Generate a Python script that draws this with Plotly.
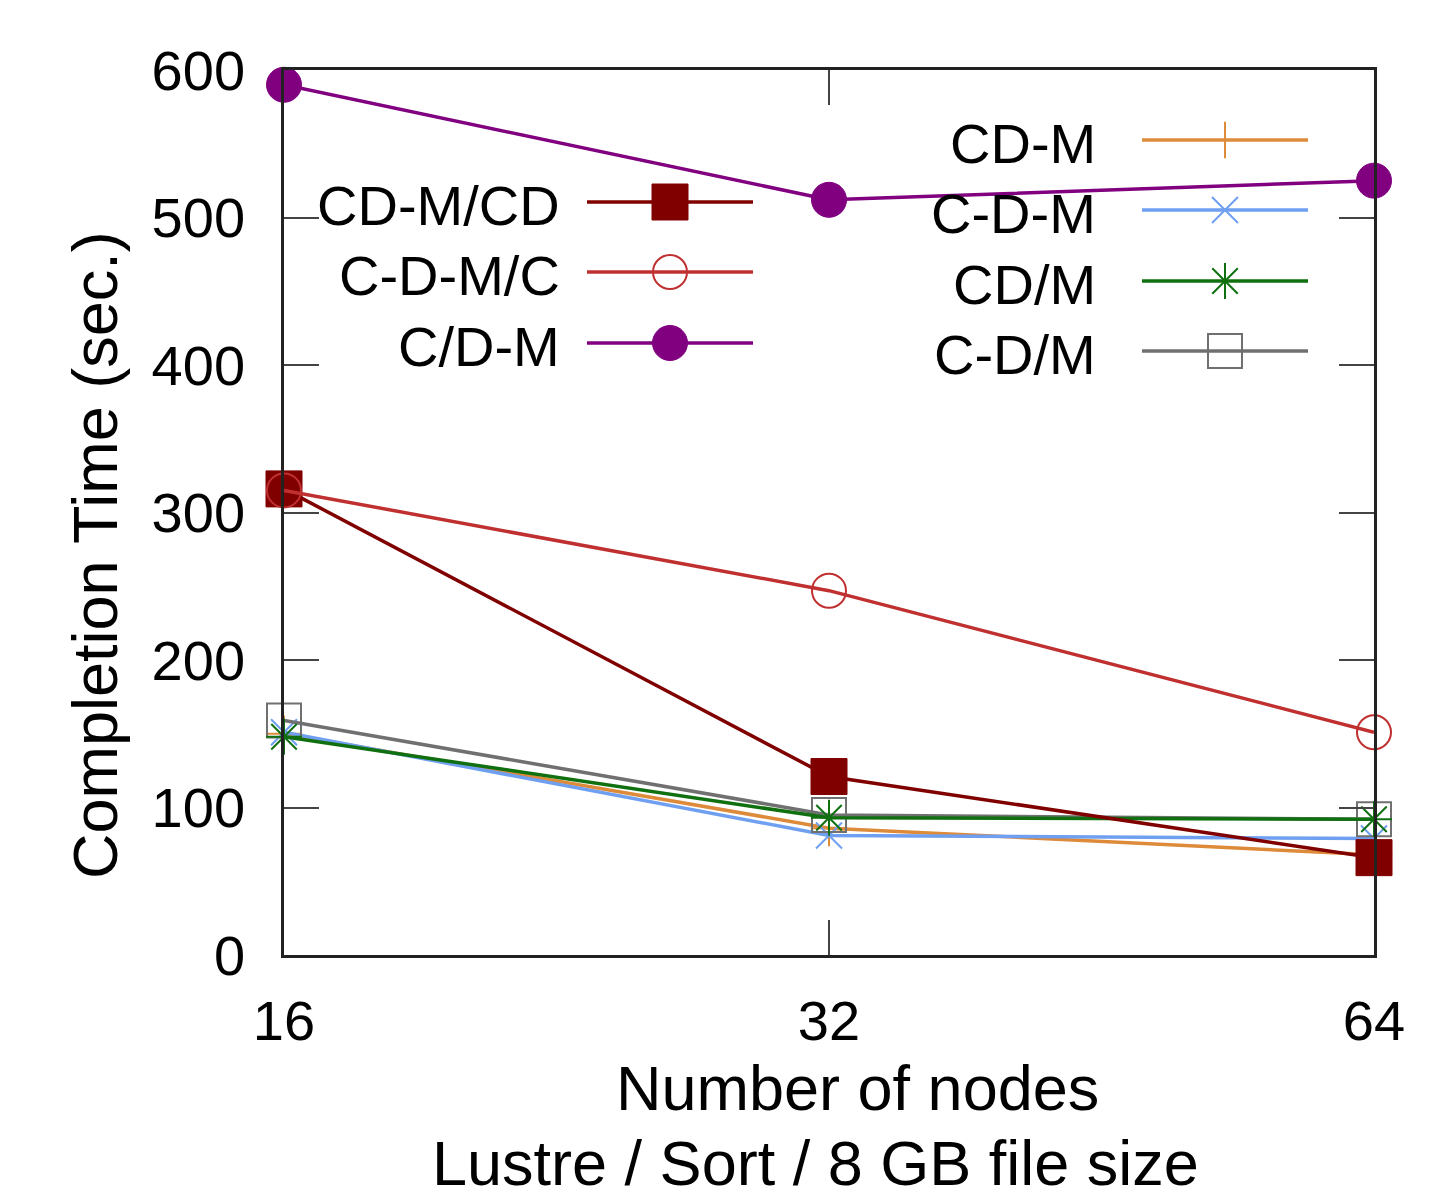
import math
import plotly.graph_objects as go

# ---------------- data ----------------
nodes = [16, 32, 64]
series_names = ["CD-M/CD", "C-D-M/C", "C/D-M", "CD-M", "C-D-M", "CD/M", "C-D/M"]
cdm_cd = [316, 121, 66]
cdm_c = [315, 247, 151]
c_dm = [590, 512, 525]
cd_m = [150, 86, 68]
c_d_m = [151, 81, 79]
cd_over_m = [148, 93, 92]
c_d_over_m = [159, 95, 92]
y_ticks = [0, 100, 200, 300, 400, 500, 600]
x_ticks = [16, 32, 64]

# ---------------- layout constants ----------------
W, H = 1442, 1192
OFF = 8  # page body margin offset
L, R, T, B = 284, 1374, 70, 955   # plot area in reference page pixels
FONT = "Liberation Sans, Arial, Helvetica, sans-serif"

def fx(px):
    return (px - L) / (R - L)

def fy(py):
    return (B - py) / (B - T)

styles = {
    "CD-M/CD": dict(color="#800000", symbol="square", size=36, lw=1),
    "C-D-M/C": dict(color="#c03030", symbol="circle-open", size=34, lw=2),
    "C/D-M": dict(color="#800080", symbol="circle", size=35, lw=1),
    "CD-M": dict(color="#dd8a3a", symbol="cross-thin", size=26, lw=2),
    "C-D-M": dict(color="#6f9ff0", symbol="x-thin", size=26, lw=2),
    "CD/M": dict(color="#107010", symbol="asterisk", size=30, lw=2),
    "C-D/M": dict(color="#707070", symbol="square-open", size=34, lw=2),
}
values = {
    "CD-M/CD": cdm_cd, "C-D-M/C": cdm_c, "C/D-M": c_dm,
    "CD-M": cd_m, "C-D-M": c_d_m, "CD/M": cd_over_m, "C-D/M": c_d_over_m,
}
draw_order = ["CD-M", "C-D-M", "C-D/M", "CD/M", "CD-M/CD", "C-D-M/C", "C/D-M"]

fig = go.Figure()

def marker_of(st):
    return dict(symbol=st["symbol"], size=st["size"], color=st["color"],
                line=dict(color=st["color"], width=st["lw"]))

for name in draw_order:
    st = styles[name]
    fig.add_trace(go.Scatter(
        x=nodes, y=values[name], mode="lines+markers", name=name,
        line=dict(color=st["color"], width=3.5),
        marker=marker_of(st), cliponaxis=False, showlegend=False,
    ))

# ---------------- manual gnuplot-style key ----------------
left_rows = [("CD-M/CD", 202), ("C-D-M/C", 272), ("C/D-M", 343)]
right_rows = [("CD-M", 140), ("C-D-M", 210), ("CD/M", 281), ("C-D/M", 351)]
cols = [(left_rows, 562, 587, 753, 670), (right_rows, 1098, 1142, 1308, 1225)]

annotations = []
shapes = []
for rows, text_r, lx0, lx1, mx in cols:
    for name, py in rows:
        st = styles[name]
        annotations.append(dict(
            text=name, x=fx(text_r), y=fy(py + 3), xref="paper", yref="paper",
            xanchor="right", yanchor="middle", showarrow=False,
            font=dict(family=FONT, size=56, color="black"),
        ))
        shapes.append(dict(type="line", xref="paper", yref="paper",
                           x0=fx(lx0), x1=fx(lx1), y0=fy(py), y1=fy(py),
                           line=dict(color=st["color"], width=3.5)))
        fig.add_trace(go.Scatter(
            x=[fx(mx)], y=[fy(py)], xaxis="x2", yaxis="y2", mode="markers",
            marker=marker_of(st), cliponaxis=False, showlegend=False,
            hoverinfo="skip",
        ))

# axis titles
annotations.append(dict(
    text="Completion Time (sec.)", x=fx(95), y=fy(555), xref="paper", yref="paper",
    xanchor="center", yanchor="middle", textangle=-90, showarrow=False,
    font=dict(family=FONT, size=63, color="black")))
annotations.append(dict(
    text="Number of nodes", x=fx(857), y=fy(1088), xref="paper", yref="paper",
    xanchor="center", yanchor="middle", showarrow=False,
    font=dict(family=FONT, size=63, color="black")))
annotations.append(dict(
    text="Lustre / Sort / 8 GB file size", x=fx(815), y=fy(1163), xref="paper", yref="paper",
    xanchor="center", yanchor="middle", showarrow=False,
    font=dict(family=FONT, size=63, color="black")))

axis_common = dict(
    showline=True, linecolor="#222222", linewidth=2.5, mirror="ticks",
    ticks="inside", ticklen=35, tickwidth=2, tickcolor="#444444",
    showgrid=False, zeroline=False,
    tickfont=dict(family=FONT, size=56, color="black"),
)

eps = 1e-6
fig.update_layout(
    width=W, height=H,
    margin=dict(l=L - OFF, r=W - (R - OFF), t=T - OFF, b=H - (B - OFF), pad=0),
    paper_bgcolor="white", plot_bgcolor="white",
    xaxis=dict(type="log", range=[math.log10(16) - eps, math.log10(64) + eps],
               tickvals=x_ticks, ticktext=[str(v) for v in x_ticks],
               ticklabelstandoff=15, **axis_common),
    yaxis=dict(range=[0, 600], tickvals=y_ticks, ticklabelstandoff=25, **axis_common),
    xaxis2=dict(overlaying="x", range=[0, 1], visible=False, fixedrange=True),
    yaxis2=dict(overlaying="y", range=[0, 1], visible=False, fixedrange=True),
    annotations=annotations, shapes=shapes, showlegend=False,
)

fig.write_html("out.html")
